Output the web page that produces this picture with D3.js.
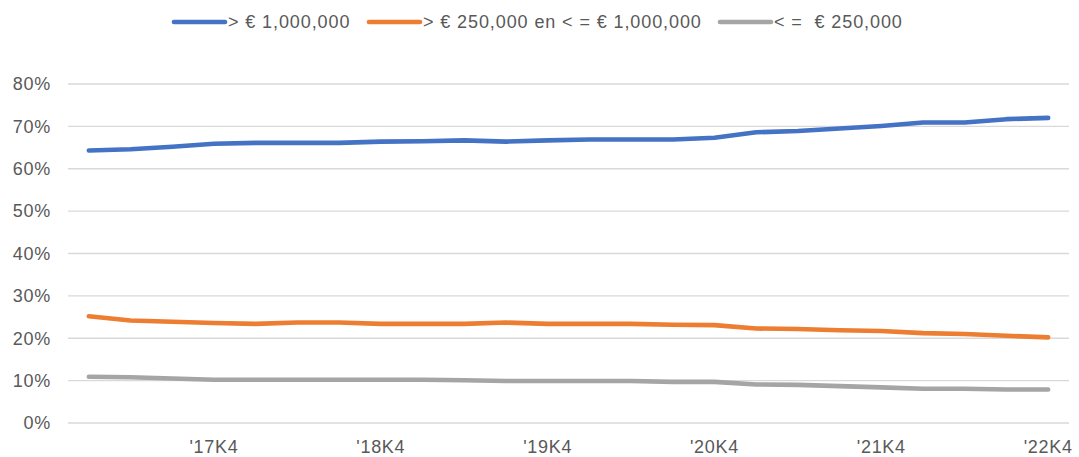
<!DOCTYPE html>
<html><head><meta charset="utf-8">
<script src="https://cdn.jsdelivr.net/npm/d3@7"></script>
<style>
html,body{margin:0;padding:0;background:#fff;}
text{font-family:"Liberation Sans",Arial,sans-serif;fill:#595959;white-space:pre;}
</style></head>
<body><svg id="chart" width="1079" height="457"></svg>
<script>
const categories = ["'17K1","'17K2","'17K3","'17K4","'18K1","'18K2","'18K3","'18K4","'19K1","'19K2","'19K3","'19K4",
  "'20K1","'20K2","'20K3","'20K4","'21K1","'21K2","'21K3","'21K4","'22K1","'22K2","'22K3","'22K4"];
const tickLabels = ["'17K4","'18K4","'19K4","'20K4","'21K4","'22K4"];
const seriesNames = ["> € 1,000,000", "> € 250,000 en < = € 1,000,000", "< =  € 250,000"];
const seriesColors = ["#4472C4", "#ED7D31", "#A5A5A5"];
const high = [64.3,64.6,65.2,65.9,66.1,66.1,66.1,66.4,66.5,66.7,66.4,66.7,66.9,66.9,66.9,67.3,68.6,68.9,69.5,70.1,70.9,70.9,71.7,72.0];
const mid  = [25.2,24.2,23.9,23.6,23.4,23.7,23.7,23.4,23.4,23.4,23.7,23.4,23.4,23.4,23.2,23.1,22.3,22.2,21.9,21.7,21.2,21.0,20.6,20.2];
const low  = [10.9,10.8,10.5,10.2,10.2,10.2,10.2,10.2,10.2,10.1,9.9,9.9,9.9,9.9,9.7,9.7,9.1,9.0,8.7,8.4,8.1,8.1,7.9,7.9];
const yTicks = [0,10,20,30,40,50,60,70,80];

const series = [high, mid, low];
const svg = d3.select("#chart");
const plotL = 68, plotR = 1069, plotT = 84, plotB = 423;

const x = d3.scaleBand().domain(categories).range([plotL, plotR]);
const y = d3.scaleLinear().domain([0, 80]).range([plotB, plotT]);

// gridlines
svg.append("g").selectAll("line").data(yTicks).join("line")
  .attr("x1", plotL).attr("x2", plotR)
  .attr("y1", d => y(d)).attr("y2", d => y(d))
  .attr("stroke", "#D9D9D9").attr("stroke-width", 1.3);

// y labels
svg.append("g").selectAll("text").data(yTicks).join("text")
  .attr("x", 51).attr("y", d => y(d)).attr("dy", "0.35em")
  .attr("text-anchor", "end").style("font-size", "18px").style("letter-spacing", "0.7px")
  .text(d => d + "%");

// x labels
svg.append("g").selectAll("text").data(tickLabels).join("text")
  .attr("x", d => x(d) + x.bandwidth() / 2).attr("y", 453)
  .attr("text-anchor", "middle").style("font-size", "18px").style("letter-spacing", "0.7px")
  .text(d => d);

// lines
const line = d3.line().x((d, i) => x(categories[i]) + x.bandwidth() / 2).y(d => y(d));
series.forEach((s, k) => {
  svg.append("path").datum(s).attr("d", line)
    .attr("fill", "none").attr("stroke", seriesColors[k]).attr("stroke-width", 4.6)
    .attr("stroke-linejoin", "round").attr("stroke-linecap", "round");
});

// legend
const legendX = [174, 369, 720];
const lg = svg.append("g");
seriesNames.forEach((n, k) => {
  lg.append("line").attr("x1", legendX[k]).attr("x2", legendX[k] + 51)
    .attr("y1", 22).attr("y2", 22).attr("stroke", seriesColors[k]).attr("stroke-width", 4.6)
    .attr("stroke-linecap", "round");
  lg.append("text").attr("x", legendX[k] + 54).attr("y", 22).attr("dy", "0.35em")
    .attr("xml:space", "preserve")
    .style("font-size", "18px").style("letter-spacing", "0.9px").text(n);
});
</script></body></html>
